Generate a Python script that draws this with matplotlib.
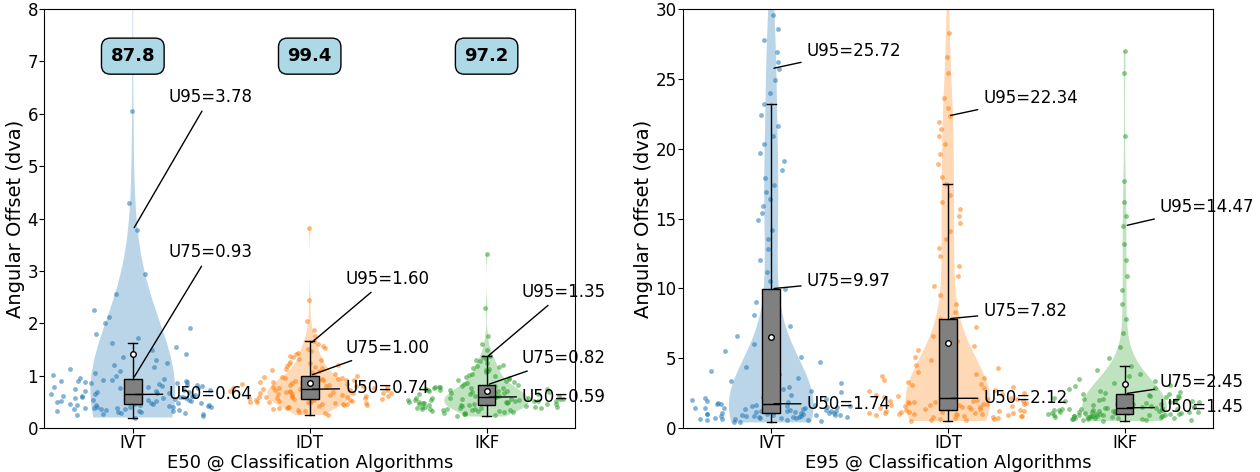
import numpy as np
import matplotlib
matplotlib.use('Agg')
import matplotlib.pyplot as plt
from matplotlib import mlab

algos = ['IVT', 'IDT', 'IKF']
colors = ['tab:blue', 'tab:orange', 'tab:green']
acc_e50 = [87.8, 99.4, 97.2]

# E50 angular offsets (dva), sorted
e50_ivt = [0.20, 0.22, 0.24, 0.26, 0.27, 0.28, 0.29, 0.30, 0.31, 0.32, 0.33, 0.33, 0.34, 0.35, 0.36, 0.36,
           0.37, 0.38, 0.38, 0.39, 0.40, 0.40, 0.41, 0.41, 0.42, 0.42, 0.43, 0.43, 0.44, 0.44, 0.45,
           0.46, 0.46, 0.47, 0.48, 0.48, 0.49, 0.50, 0.50, 0.51, 0.52, 0.52, 0.53, 0.54, 0.54, 0.55,
           0.56, 0.56, 0.57, 0.58, 0.58, 0.59, 0.60, 0.60, 0.61, 0.61, 0.62, 0.62, 0.63, 0.63, 0.64,
           0.65, 0.66, 0.67, 0.68, 0.69, 0.70, 0.71, 0.72, 0.73, 0.74, 0.75, 0.76, 0.77, 0.78, 0.79,
           0.80, 0.81, 0.82, 0.83, 0.84, 0.85, 0.86, 0.87, 0.88, 0.89, 0.90, 0.90, 0.91, 0.92, 0.93,
           0.96, 0.99, 1.02, 1.05, 1.08, 1.12, 1.16, 1.20, 1.25, 1.30, 1.36, 1.42, 1.48, 1.55, 1.62,
           1.72, 1.80, 1.90, 2.00, 2.12, 2.25, 2.55, 2.95, 3.78, 4.30, 6.05, 9.5, 14.0, 19.0, 28.0]
e50_idt = [0.25, 0.28, 0.31, 0.33, 0.35, 0.36, 0.38, 0.39, 0.40, 0.41, 0.42, 0.43, 0.44, 0.45, 0.45, 0.46,
           0.47, 0.47, 0.48, 0.49, 0.49, 0.50, 0.50, 0.51, 0.52, 0.52, 0.53, 0.54, 0.54, 0.55, 0.56,
           0.57, 0.57, 0.58, 0.59, 0.59, 0.60, 0.60, 0.61, 0.62, 0.62, 0.63, 0.63, 0.64, 0.65, 0.65,
           0.66, 0.66, 0.67, 0.67, 0.68, 0.68, 0.69, 0.70, 0.70, 0.71, 0.71, 0.72, 0.72, 0.73, 0.74,
           0.75, 0.76, 0.76, 0.77, 0.78, 0.79, 0.80, 0.80, 0.81, 0.82, 0.83, 0.84, 0.84, 0.85, 0.86,
           0.87, 0.88, 0.88, 0.89, 0.90, 0.91, 0.92, 0.92, 0.93, 0.94, 0.95, 0.96, 0.97, 0.98, 1.00,
           1.02, 1.04, 1.06, 1.08, 1.10, 1.12, 1.14, 1.16, 1.18, 1.20, 1.22, 1.24, 1.26, 1.29, 1.32,
           1.35, 1.38, 1.41, 1.44, 1.47, 1.50, 1.53, 1.56, 1.60, 1.66, 1.75, 1.88, 2.05, 2.45, 3.82]
e50_ikf = [0.22, 0.24, 0.26, 0.27, 0.28, 0.29, 0.30, 0.31, 0.32, 0.32, 0.33, 0.34, 0.34, 0.35, 0.36, 0.36,
           0.37, 0.37, 0.38, 0.38, 0.39, 0.39, 0.40, 0.40, 0.41, 0.41, 0.42, 0.42, 0.43, 0.43, 0.44,
           0.45, 0.45, 0.46, 0.46, 0.47, 0.47, 0.48, 0.48, 0.49, 0.49, 0.50, 0.50, 0.51, 0.51, 0.52,
           0.52, 0.53, 0.53, 0.54, 0.54, 0.55, 0.55, 0.56, 0.56, 0.57, 0.57, 0.58, 0.58, 0.59, 0.59,
           0.60, 0.61, 0.61, 0.62, 0.63, 0.64, 0.64, 0.65, 0.66, 0.67, 0.67, 0.68, 0.69, 0.70, 0.70,
           0.71, 0.72, 0.73, 0.73, 0.74, 0.75, 0.76, 0.76, 0.77, 0.78, 0.79, 0.79, 0.80, 0.81, 0.82,
           0.84, 0.86, 0.88, 0.90, 0.92, 0.94, 0.96, 0.98, 1.00, 1.02, 1.04, 1.06, 1.08, 1.10, 1.12,
           1.14, 1.16, 1.18, 1.21, 1.24, 1.27, 1.30, 1.32, 1.35, 1.38, 1.48, 1.60, 1.75, 2.30, 3.33]

# E95 angular offsets (dva)
e95_ivt = [0.40, 0.45, 0.50, 0.54, 0.57, 0.60, 0.63, 0.65, 0.67, 0.69, 0.71, 0.73, 0.75, 0.77, 0.79, 0.80,
           0.82, 0.84, 0.85, 0.87, 0.88, 0.90, 0.91, 0.93, 0.94, 0.96, 0.97, 0.99, 1.01, 1.03, 1.05,
           1.07, 1.09, 1.11, 1.13, 1.15, 1.17, 1.19, 1.21, 1.23, 1.25, 1.27, 1.29, 1.31, 1.33, 1.35,
           1.38, 1.40, 1.42, 1.44, 1.46, 1.49, 1.51, 1.54, 1.56, 1.59, 1.61, 1.64, 1.67, 1.70, 1.74,
           1.80, 1.86, 1.92, 1.98, 2.05, 2.12, 2.20, 2.28, 2.37, 2.46, 2.56, 2.67, 2.79, 2.92, 3.06,
           3.22, 3.40, 3.60, 3.85, 4.10, 4.40, 4.75, 5.10, 5.50, 6.00, 6.60, 7.30, 8.10, 9.00, 9.97,
           10.5, 11.2, 12.0, 12.8, 13.5, 14.2, 14.9, 15.4, 15.9, 16.4, 16.9, 17.4, 17.9, 18.5, 19.1,
           19.7, 20.3, 20.9, 21.6, 22.4, 23.2, 24.0, 24.9, 25.72, 26.2, 26.9, 27.8, 28.6, 29.6, 31.5]
e95_idt = [0.50, 0.55, 0.60, 0.64, 0.68, 0.72, 0.75, 0.78, 0.81, 0.84, 0.87, 0.89, 0.91, 0.93, 0.95, 0.97,
           0.99, 1.01, 1.03, 1.05, 1.07, 1.09, 1.11, 1.13, 1.15, 1.17, 1.19, 1.21, 1.24, 1.27, 1.30,
           1.33, 1.36, 1.39, 1.42, 1.45, 1.48, 1.51, 1.54, 1.57, 1.60, 1.62, 1.64, 1.67, 1.70, 1.72,
           1.75, 1.78, 1.80, 1.83, 1.86, 1.88, 1.91, 1.94, 1.96, 1.99, 2.02, 2.04, 2.07, 2.10, 2.12,
           2.20, 2.28, 2.36, 2.45, 2.54, 2.63, 2.73, 2.83, 2.94, 3.05, 3.17, 3.29, 3.42, 3.56, 3.70,
           3.85, 4.00, 4.16, 4.33, 4.50, 4.70, 4.90, 5.12, 5.36, 5.62, 5.90, 6.22, 6.60, 7.20, 7.82,
           8.3, 8.9, 9.5, 10.2, 10.9, 11.6, 12.3, 12.9, 13.5, 14.1, 14.7, 15.2, 15.7, 16.2, 16.7,
           17.5, 18.0, 18.9, 19.6, 20.3, 20.9, 21.4, 21.9, 22.34, 22.9, 23.6, 25.4, 26.6, 28.3, 32.0]
e95_ikf = [0.50, 0.54, 0.57, 0.60, 0.62, 0.64, 0.66, 0.68, 0.70, 0.71, 0.73, 0.74, 0.76, 0.77, 0.79, 0.80,
           0.81, 0.83, 0.84, 0.85, 0.87, 0.88, 0.89, 0.90, 0.92, 0.93, 0.94, 0.95, 0.97, 0.98, 1.00,
           1.01, 1.03, 1.04, 1.06, 1.07, 1.09, 1.10, 1.12, 1.13, 1.15, 1.16, 1.18, 1.19, 1.21, 1.22,
           1.24, 1.25, 1.27, 1.28, 1.30, 1.31, 1.33, 1.34, 1.36, 1.37, 1.39, 1.40, 1.42, 1.43, 1.45,
           1.48, 1.51, 1.54, 1.57, 1.60, 1.63, 1.66, 1.69, 1.72, 1.75, 1.78, 1.81, 1.84, 1.87, 1.90,
           1.93, 1.96, 1.99, 2.02, 2.06, 2.09, 2.12, 2.16, 2.19, 2.23, 2.27, 2.31, 2.35, 2.40, 2.45,
           2.52, 2.60, 2.68, 2.77, 2.87, 2.98, 3.10, 3.23, 3.37, 3.52, 3.70, 3.90, 4.15, 4.45, 5.0,
           5.8, 6.8, 7.8, 8.9, 9.9, 10.9, 12.0, 13.2, 14.47, 15.2, 16.2, 17.7, 20.9, 25.4, 27.0]

# where the U50/U75/U95 labels sit (y, data units)
e50_text_y = [[0.65, 3.36, 6.32], [0.76, 1.53, 2.85], [0.60, 1.33, 2.60]]
e95_text_y = [[1.72, 10.5, 27.0], [2.15, 8.35, 23.6], [1.48, 3.28, 15.84]]


def draw(ax, groups, text_y, ymax, yticks, xlabel, seed):
    rng = np.random.default_rng(seed)
    for i, (vals, c) in enumerate(zip(groups, colors)):
        vals = np.asarray(vals, dtype=float)
        vp = ax.violinplot([vals], positions=[i], widths=0.48, showextrema=False)
        for b in vp['bodies']:
            b.set_facecolor(c)
            b.set_edgecolor('none')
            b.set_alpha(0.3)
            b.set_zorder(1)
        # sina-style jitter: spread follows the density
        kde = mlab.GaussianKDE(vals, 'scott')
        grid = np.linspace(vals.min(), vals.max(), 400)
        dmax = kde.evaluate(grid).max()
        spread = 0.47 * kde.evaluate(vals) / dmax
        xj = i + rng.uniform(-1, 1, len(vals)) * spread
        ax.scatter(xj, vals, s=12, color=c, alpha=0.55, linewidths=0, zorder=2)

    ax.boxplot(groups, positions=[0, 1, 2], widths=0.1, patch_artist=True,
               showfliers=False, showmeans=True,
               boxprops=dict(facecolor='grey', edgecolor='black'),
               medianprops=dict(color='black'),
               meanprops=dict(marker='o', markerfacecolor='white',
                              markeredgecolor='black', markersize=4),
               zorder=3)

    for i, vals in enumerate(groups):
        qs = np.percentile(vals, [50, 75, 95])
        for k, (p, q) in enumerate(zip([50, 75, 95], qs)):
            ax.annotate(f'U{p}={q:.2f}', xy=(i, q), xytext=(i + 0.2, text_y[i][k]),
                        ha='left', va='center', fontsize=12, zorder=4,
                        arrowprops=dict(arrowstyle='-', color='black', lw=1))

    ax.set_xlim(-0.5, 2.5)
    ax.set_ylim(0, ymax)
    ax.set_yticks(yticks)
    ax.set_xticks([0, 1, 2])
    ax.set_xticklabels(algos)
    ax.tick_params(labelsize=12, pad=1)
    ax.set_xlabel(xlabel, fontsize=13, labelpad=1)
    ax.set_ylabel('Angular Offset (dva)', fontsize=14, labelpad=2)


fig = plt.figure(figsize=(12.6, 4.72), dpi=100)
ax1 = fig.add_axes([0.0352, 0.0932, 0.4212, 0.8877])
ax2 = fig.add_axes([0.542, 0.0932, 0.4206, 0.8877])

draw(ax1, [e50_ivt, e50_idt, e50_ikf], e50_text_y, 8, range(0, 9),
     'E50 @ Classification Algorithms', 1)
draw(ax2, [e95_ivt, e95_idt, e95_ikf], e95_text_y, 30, range(0, 31, 5),
     'E95 @ Classification Algorithms', 2)

for i, a in enumerate(acc_e50):
    ax1.text(i, 7.1, f'{a:.1f}', ha='center', va='center', fontsize=13, fontweight='bold',
             zorder=5, bbox=dict(boxstyle='round,pad=0.5', facecolor='lightblue', edgecolor='black'))

fig.savefig('out.png', dpi=100)
